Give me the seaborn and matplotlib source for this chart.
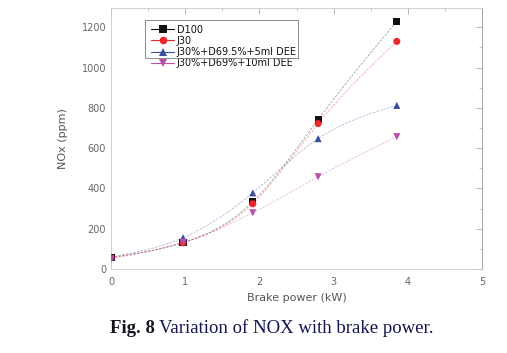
import numpy as np
import pandas as pd
import matplotlib
matplotlib.use("Agg")
import matplotlib.pyplot as plt
from matplotlib.lines import Line2D
from matplotlib.patches import Rectangle
from matplotlib.ticker import MultipleLocator
import seaborn as sns

power = [0.0, 0.97, 1.91, 2.79, 3.85]
series_names = ["D100", "J30", "J30%+D69.5%+5ml DEE", "J30%+D69%+10ml DEE"]
d100 = [58, 130, 334, 742, 1230]
j30 = [55, 130, 324, 722, 1130]
dee5 = [60, 155, 378, 647, 812]
dee10 = [50, 133, 279, 458, 657]
values = [d100, j30, dee5, dee10]
colors = ["#111111", "#e8262b", "#3a4f9e", "#b94fa6"]
markers = ["s", "o", "^", "v"]
x_ticks = [0, 1, 2, 3, 4, 5]
y_ticks = [0, 200, 400, 600, 800, 1000, 1200]


def natural_spline(x, y, n=200):
    x = np.asarray(x, float)
    y = np.asarray(y, float)
    m = len(x)
    h = np.diff(x)
    A = np.zeros((m, m))
    b = np.zeros(m)
    A[0, 0] = 1
    A[-1, -1] = 1
    for i in range(1, m - 1):
        A[i, i - 1] = h[i - 1]
        A[i, i] = 2 * (h[i - 1] + h[i])
        A[i, i + 1] = h[i]
        b[i] = 3 * ((y[i + 1] - y[i]) / h[i] - (y[i] - y[i - 1]) / h[i - 1])
    c = np.linalg.solve(A, b)
    xs = np.linspace(x[0], x[-1], n)
    ys = np.empty_like(xs)
    for k, xv in enumerate(xs):
        i = min(np.searchsorted(x, xv, side="right") - 1, m - 2)
        dx = xv - x[i]
        bb = (y[i + 1] - y[i]) / h[i] - h[i] * (2 * c[i] + c[i + 1]) / 3
        dd = (c[i + 1] - c[i]) / (3 * h[i])
        ys[k] = y[i] + bb * dx + c[i] * dx ** 2 + dd * dx ** 3
    return xs, ys


sns.set_theme(style="white")
plt.rcParams["font.family"] = ["DejaVu Sans"]

fig = plt.figure(figsize=(5.07, 3.53), dpi=100)
ax = fig.add_axes([0.219, 0.238, 0.732, 0.739])

handles = []
for name, vals, col, mk in zip(series_names, values, colors, markers):
    xs, ys = natural_spline(power, vals)
    curve = pd.DataFrame({"x": xs, "y": ys})
    sns.lineplot(data=curve, x="x", y="y", ax=ax, color=col, lw=0.6,
                 alpha=0.4, linestyle=(0, (3, 1.5)), sort=False)
    pts = pd.DataFrame({"x": power, "y": vals})
    sns.scatterplot(data=pts, x="x", y="y", ax=ax, color=col, marker=mk,
                    s=26, edgecolor="none", zorder=5)
    handles.append(Line2D([], [], color=col, lw=0.8, marker=mk,
                          markersize=5.5, markeredgewidth=0))

ax.set_xlim(0, 5)
ax.set_ylim(0, 1295)
ax.set_xticks(x_ticks)
ax.set_yticks(y_ticks)
ax.xaxis.set_minor_locator(MultipleLocator(0.5))
ax.yaxis.set_minor_locator(MultipleLocator(100))
ax.tick_params(which="both", direction="in", top=True, right=True,
               colors="#aaaaaa", labelcolor="#666666", labelsize=7)
ax.tick_params(which="major", length=4, width=0.6)
ax.tick_params(which="minor", length=2, width=0.5)
ax.tick_params(axis="x", pad=6)
for s in ax.spines.values():
    s.set_color("#c8c8c8")
    s.set_linewidth(0.6)
ax.spines["right"].set_color("#999999")

ax.set_xlabel("Brake power (kW)", fontsize=8, color="#555555", labelpad=4)
ax.set_ylabel("NOx (ppm)", fontsize=8, color="#555555", labelpad=10)

leg = ax.legend(handles, series_names, loc="upper left",
                bbox_to_anchor=(0.108, 0.937), borderaxespad=0, fontsize=7,
                frameon=False, borderpad=0, labelspacing=0.13,
                handlelength=2.4, handletextpad=0.25, labelcolor="#111111")
ax.add_patch(Rectangle((0.0916, 0.808), 0.4124, 0.146,
                       transform=ax.transAxes, fill=False,
                       edgecolor="#777777", lw=0.6, zorder=6))

t1 = fig.text(0.217, 0.07, "Fig. 8", fontsize=13.5, fontweight="bold",
              family="Liberation Serif", color="#141420", ha="left",
              va="center")
fig.canvas.draw()
bb = t1.get_window_extent()
fig.text(bb.x1 / fig.bbox.width + 0.008, 0.07,
         "Variation of NOX with brake power.", fontsize=13.5,
         family="Liberation Serif", color="#141450", ha="left", va="center")

fig.savefig("out.png", dpi=100)
